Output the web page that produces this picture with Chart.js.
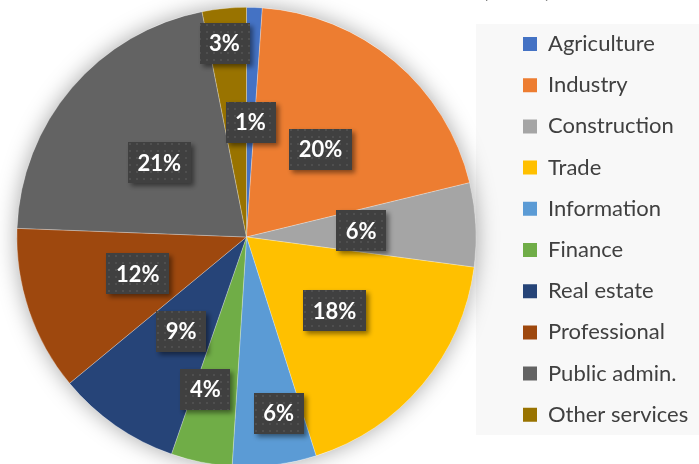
<!DOCTYPE html>
<html>
<head>
<meta charset="utf-8">
<script src="https://cdn.jsdelivr.net/npm/chart.js@4.4.1/dist/chart.umd.min.js"></script>
<style>
  html, body { margin: 0; padding: 0; background: #fff; overflow: hidden; }
  #wrap { position: relative; width: 699px; height: 474px; }
</style>
</head>
<body>
<div id="wrap"><canvas id="sectorChart"></canvas></div>
<script>
// share of each sector, in percent
const sectors = ['Agriculture', 'Industry', 'Construction', 'Trade', 'Information',
                 'Finance', 'Real estate', 'Professional', 'Public admin.', 'Other services'];
const shares = [1.1, 20.1, 5.9, 18.0, 5.9, 4.3, 8.7, 11.6, 21.3, 3.1];
const sectorColors = ['#4472C4', '#ED7D31', '#A5A5A5', '#FFC000', '#5B9BD5',
                      '#70AD47', '#264478', '#9E480E', '#636363', '#997300'];
const chartTitle = 'Sector Shares of GDP (2019)';

// dark dotted fill used behind the percentage labels
function makeDotPattern(ctx) {
    const c = document.createElement('canvas');
    c.width = 7; c.height = 7;
    const p = c.getContext('2d');
    p.fillStyle = '#404040';
    p.fillRect(0, 0, 7, 7);
    p.fillStyle = '#4f4f4f';
    p.fillRect(3, 3, 2, 2);
    return ctx.createPattern(c, 'repeat');
}

const legendFit = {
    id: 'legendFit',
    beforeInit(chart) {
        const fit = chart.legend.fit;
        chart.legend.fit = function () {
            fit.call(this);
            this.width = 222;
        };
    },
    afterLayout(chart) {
        const lg = chart.legend;
        lg.left += 26.8; lg.right += 26.8;
        lg.top -= 7.6; lg.bottom -= 7.6;
    }
};

const legendPanel = {
    id: 'legendPanel',
    beforeDraw(chart) {
        const { ctx, chartArea } = chart;
        ctx.save();
        ctx.fillStyle = '#f8f8f8';
        ctx.fillRect(chartArea.right - 1, 24, chart.width, 411);
        ctx.restore();
    }
};

const pieGlow = {
    id: 'pieGlow',
    beforeDatasetsDraw(chart) {
        const arc = chart.getDatasetMeta(0).data[0];
        if (!arc) return;
        const { ctx } = chart;
        ctx.save();
        ctx.shadowColor = 'rgba(0,0,0,0.35)';
        ctx.shadowBlur = 22;
        ctx.fillStyle = '#fff';
        ctx.beginPath();
        ctx.arc(arc.x, arc.y, arc.outerRadius, 0, Math.PI * 2);
        ctx.fill();
        ctx.restore();
    }
};

const sliceLabels = {
    id: 'sliceLabels',
    afterDatasetsDraw(chart, args, opts) {
        const { ctx } = chart;
        const meta = chart.getDatasetMeta(0);
        const total = shares.reduce((a, b) => a + b, 0);
        const pattern = makeDotPattern(ctx);
        ctx.save();
        ctx.font = opts.font;
        meta.data.forEach((arc, i) => {
            const { x, y, startAngle, endAngle, outerRadius } =
                arc.getProps(['x', 'y', 'startAngle', 'endAngle', 'outerRadius'], true);
            const nudge = opts.nudge[i] || {};
            const frac = nudge.r ?? 0.5;
            const a = (startAngle + endAngle) / 2 + (nudge.da || 0) * Math.PI / 180;
            const cx = x + Math.cos(a) * outerRadius * frac;
            const cy = y + Math.sin(a) * outerRadius * frac;
            const text = Math.round(shares[i] / total * 100) + '%';
            const w = ctx.measureText(text).width + 2 * opts.padX;
            const h = opts.boxHeight;

            ctx.save();
            ctx.shadowColor = 'rgba(0,0,0,0.45)';
            ctx.shadowBlur = 5;
            ctx.shadowOffsetX = 3;
            ctx.shadowOffsetY = 3;
            ctx.fillStyle = pattern;
            ctx.fillRect(Math.round(cx - w / 2), Math.round(cy - h / 2), Math.round(w), h);
            ctx.restore();

            ctx.fillStyle = '#ffffff';
            ctx.textAlign = 'center';
            ctx.textBaseline = 'middle';
            ctx.fillText(text, cx, cy + 1);
        });
        ctx.restore();
    }
};

// title sits above the visible frame, only its bottom edge shows
const clippedTitle = {
    id: 'clippedTitle',
    afterDraw(chart) {
        const { ctx } = chart;
        ctx.save();
        ctx.font = 'bold 24px Lato';
        ctx.fillStyle = '#595959';
        ctx.textAlign = 'right';
        ctx.textBaseline = 'alphabetic';
        ctx.fillText(chartTitle, 551, -3.5);
        ctx.restore();
    }
};

const baseLabels = Chart.overrides.doughnut.plugins.legend.labels.generateLabels;

new Chart(document.getElementById('sectorChart'), {
    type: 'pie',
    data: {
        labels: sectors,
        datasets: [{
            data: shares,
            backgroundColor: sectorColors,
            borderColor: 'rgba(255,255,255,0.35)',
            borderWidth: 0.75
        }]
    },
    options: {
        responsive: true,
        maintainAspectRatio: false,
        animation: false,
        layout: { padding: { left: 16, top: 7, bottom: 7, right: 0 } },
        plugins: {
            tooltip: { enabled: false },
            legend: {
                position: 'right',
                align: 'center',
                labels: {
                    boxWidth: 14,
                    boxHeight: 14,
                    padding: 19.2,
                    color: '#404040',
                    font: { family: 'Lato', size: 22 },
                    generateLabels(chart) {
                        return baseLabels(chart).map(item => ({ ...item, lineWidth: 0 }));
                    }
                }
            },
            sliceLabels: {
                font: 'bold 22px Lato',
                padX: 9.5,
                boxHeight: 41,
                nudge: {
                    4: { r: 0.78, da: -3.3 },
                    5: { r: 0.687, da: 3.8 },
                    9: { r: 0.85, da: -0.9 }
                }
            }
        }
    },
    plugins: [legendFit, legendPanel, pieGlow, sliceLabels, clippedTitle]
});
</script>
</body>
</html>
